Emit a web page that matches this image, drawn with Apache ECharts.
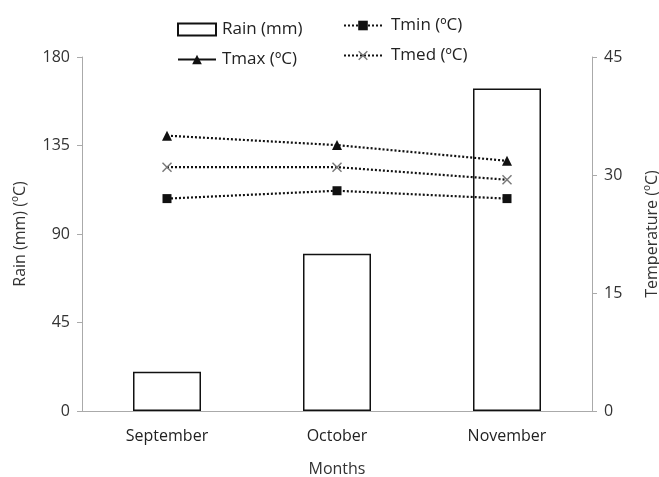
<!DOCTYPE html>
<html><head><meta charset="utf-8">
<script src="https://cdn.jsdelivr.net/npm/echarts@6/dist/echarts.min.js"></script>
<style>html,body{margin:0;padding:0;background:#fff}#c{width:659px;height:477px}</style>
</head><body><div id="c"></div>
<script>
var months = ['September', 'October', 'November'];
var rain = [20, 80, 164];
var tmax = [35, 33.8, 31.8];
var tmin = [27, 28, 27];
var tmed = [31, 31, 29.4];
var rainTicks = [0, 45, 90, 135, 180];
var tempTicks = [0, 15, 30, 45];

var xPath = 'path://M1,0L5,4L9,0L10,1L6,5L10,9L9,10L5,6L1,10L0,9L4,5L0,1Z';
var font = '"Open Sans", sans-serif';
var chart = echarts.init(document.getElementById('c'));
chart.setOption({
  animation: false,
  grid: { left: 82, right: 67, top: 57, bottom: 66, containLabel: false, outerBoundsMode: 'none' },
  legend: [
    { left: 172, top: 16, orient: 'vertical', itemGap: 13, itemWidth: 38, itemHeight: 12,
      textStyle: { fontFamily: font, fontSize: 17, color: '#222', padding: [0, 0, 0, 1] },
      data: [{ name: 'Rain (mm)', icon: 'rect' },
             { name: 'Tmax (ºC)', lineStyle: { type: 'solid' } }] },
    { left: 338, top: 12, orient: 'vertical', itemGap: 13, itemWidth: 38, itemHeight: 12,
      textStyle: { fontFamily: font, fontSize: 17, color: '#222', padding: [0, 0, 0, 4] },
      data: ['Tmin (ºC)', 'Tmed (ºC)'] }
  ],
  xAxis: {
    type: 'category', data: months,
    name: 'Months', nameLocation: 'middle', nameGap: 50,
    nameTextStyle: { fontFamily: font, fontSize: 16, color: '#333' },
    axisLine: { lineStyle: { color: '#aaa', width: 1 } },
    axisTick: { alignWithLabel: true, length: 5, lineStyle: { color: '#aaa' } },
    axisLabel: { fontFamily: font, fontSize: 16, color: '#222', margin: 17 }
  },
  yAxis: [
    { type: 'value', min: rainTicks[0], max: rainTicks[rainTicks.length - 1], interval: 45,
      name: 'Rain (mm) (ºC)', nameLocation: 'middle', nameGap: 54, nameRotate: 90,
      nameTextStyle: { fontFamily: font, fontSize: 16, color: '#333' },
      axisLine: { show: true, lineStyle: { color: '#aaa' } },
      axisTick: { show: true, length: 5, lineStyle: { color: '#aaa' } },
      splitLine: { show: false },
      axisLabel: { fontFamily: font, fontSize: 16, color: '#333', margin: 12 } },
    { type: 'value', min: tempTicks[0], max: tempTicks[tempTicks.length - 1], interval: 15,
      name: 'Temperature (ºC)', nameLocation: 'middle', nameGap: 52, nameRotate: 90,
      nameTextStyle: { fontFamily: font, fontSize: 16, color: '#333' },
      axisLine: { show: true, lineStyle: { color: '#aaa' } },
      axisTick: { show: true, length: 5, lineStyle: { color: '#aaa' } },
      splitLine: { show: false },
      axisLabel: { fontFamily: font, fontSize: 16, color: '#333', margin: 12 } }
  ],
  series: [
    { name: 'Rain (mm)', type: 'bar', data: rain, yAxisIndex: 0, barWidth: '40%',
      itemStyle: { color: '#fff', borderColor: '#111', borderWidth: 1.5 } },
    { name: 'Tmax (ºC)', type: 'line', data: tmax, yAxisIndex: 1, symbol: 'triangle', symbolSize: 10,
      lineStyle: { color: '#111', width: 2.2, type: [2, 2] }, itemStyle: { color: '#111' } },
    { name: 'Tmin (ºC)', type: 'line', data: tmin, yAxisIndex: 1, symbol: 'rect', symbolSize: 9,
      lineStyle: { color: '#111', width: 2.2, type: [2, 2] }, itemStyle: { color: '#111' } },
    { name: 'Tmed (ºC)', type: 'line', data: tmed, yAxisIndex: 1, symbol: xPath, symbolSize: 10,
      lineStyle: { color: '#111', width: 2.2, type: [2, 2] }, itemStyle: { color: '#777' } }
  ]
});
</script></body></html>
